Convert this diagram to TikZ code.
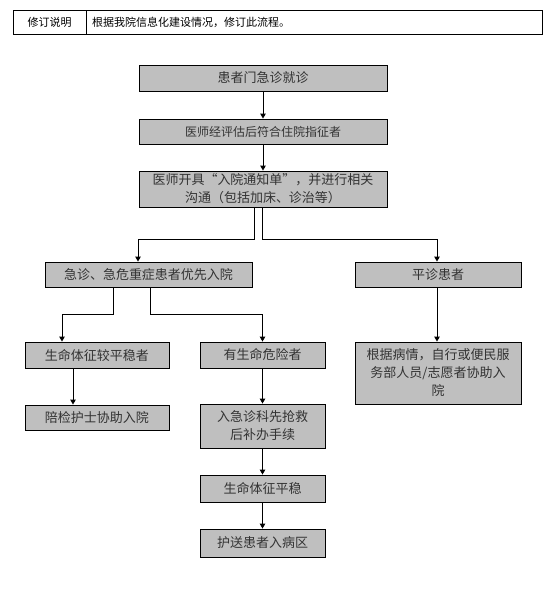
\documentclass[tikz,border=0pt]{standalone}
\usepackage{fontspec}
\setmainfont{Noto Sans CJK SC}
\usetikzlibrary{arrows.meta}
\begin{document}
\begin{tikzpicture}[x=1pt,y=-1pt,
  box/.style={draw=black, line width=0.9pt, fill=black!25, inner sep=0pt, align=center,
     font=\fontsize{13}{18}\selectfont, text=black!80},
  arr/.style={draw=black, line width=0.9pt, -{Triangle[length=5pt,width=5.5pt]}},
  ln/.style={draw=black, line width=0.9pt},
  hdr/.style={font=\fontsize{11}{13}\selectfont, inner sep=0pt}]
\useasboundingbox (0,0) rectangle (549,598);
% header table
\draw[line width=0.9pt] (13,10) rectangle (542,34);
\draw[line width=0.9pt] (86,10) -- (86,34);
\node[hdr] (h1) at (49.5,22) {修订说明};
\node[hdr, anchor=west] (h2) at (92,22) {根据我院信息化建设情况，修订此流程。};
% boxes
\node[box, minimum width=248, minimum height=26] (n1) at (263,78) {患者门急诊就诊};
\node[box, minimum width=248, minimum height=25, font=\fontsize{12}{15}\selectfont] (n2) at (263,131.5) {医师经评估后符合住院指征者};
\node[box, minimum width=248, minimum height=36] (n3) at (263,189) {医师开具“入院通知单”，并进行相关\\沟通（包括加床、诊治等）};
\node[box, minimum width=207, minimum height=25] (n4) at (148.5,274.5) {急诊、急危重症患者优先入院};
\node[box, minimum width=166, minimum height=25] (n5) at (438,274.5) {平诊患者};
\node[box, minimum width=144, minimum height=26] (n6) at (97,355) {生命体征较平稳者};
\node[box, minimum width=125, minimum height=26] (n7) at (262.5,355) {有生命危险者};
\node[box, minimum width=144, minimum height=25] (n8) at (97,417.5) {陪检护士协助入院};
\node[box, minimum width=125, minimum height=44] (n9) at (262.5,426) {入急诊科先抢救\\后补办手续};
\node[box, minimum width=166, minimum height=62] (n10) at (438,373) {根据病情，自行或便民服\\务部人员/志愿者协助入\\院};
\node[box, minimum width=125, minimum height=27] (n11) at (262.5,488.5) {生命体征平稳};
\node[box, minimum width=125, minimum height=28] (n12) at (262.5,543) {护送患者入病区};
% helper coordinates
\coordinate (a1) at (254,239);
\coordinate (a2) at (138,239);
\coordinate (b1) at (262.5,239);
\coordinate (b2) at (437,239);
\coordinate (c1) at (113,314);
\coordinate (c2) at (62,314);
\coordinate (d1) at (150,314);
\coordinate (d2) at (262.5,314);
\coordinate (e1) at (73,0);
% connectors
\draw[arr] (n1) -- (n2);
\draw[arr] (n2) -- (n3);
\draw[arr] (a1 |- n3.south) -- (a1) -- (a2) -- (a2 |- n4.north);
\draw[arr] (b1 |- n3.south) -- (b1) -- (b2) -- (b2 |- n5.north);
\draw[arr] (c1 |- n4.south) -- (c1) -- (c2) -- (c2 |- n6.north);
\draw[arr] (d1 |- n4.south) -- (d1) -- (d2) -- (d2 |- n7.north);
\draw[arr] (b2 |- n5.south) -- (b2 |- n10.north);
\draw[arr] (e1 |- n6.south) -- (e1 |- n8.north);
\draw[arr] (n7) -- (n9);
\draw[arr] (n9) -- (n11);
\draw[arr] (n11) -- (n12);
\end{tikzpicture}
\end{document}
